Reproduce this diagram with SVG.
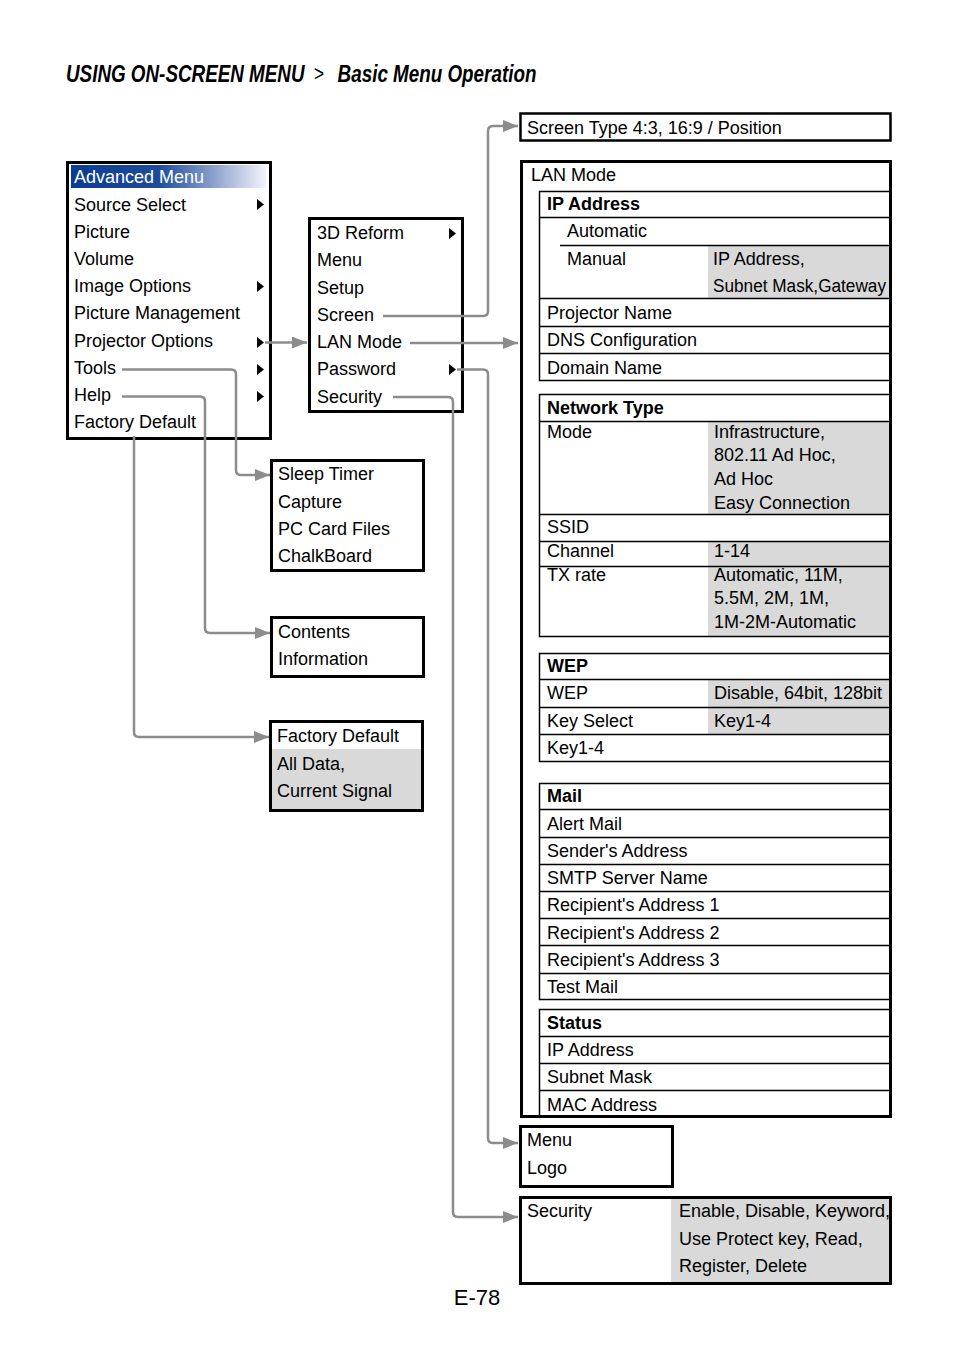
<svg xmlns="http://www.w3.org/2000/svg" width="954" height="1352" viewBox="0 0 954 1352">
<style>
text{font-family:"Liberation Sans",Arial,sans-serif;font-size:18px;fill:#000}
.b{font-weight:bold}
.box{fill:none;stroke:#000;stroke-width:3}
.sec{fill:none;stroke:#000;stroke-width:1.5}
.ln{stroke:#000;stroke-width:1.5}
.gr{fill:#d9d9d9}
.tri{fill:#000}
.con{fill:none;stroke:#8c8c8c;stroke-width:2.5;marker-end:url(#ah)}
.ttl{font-family:"Liberation Sans",Arial,sans-serif;font-size:24px;font-weight:bold;font-style:italic}
</style>
<defs>
<linearGradient id="hdr" x1="0" y1="0" x2="1" y2="0">
<stop offset="0" stop-color="#0a3c94"/>
<stop offset="0.45" stop-color="#1d4b9c"/>
<stop offset="1" stop-color="#f4f4fb"/>
</linearGradient>
<marker id="ah" markerUnits="userSpaceOnUse" markerWidth="15" markerHeight="12" refX="15" refY="6" orient="auto">
<path d="M0,0 L15,6 L0,12 z" fill="#8c8c8c"/>
</marker>
</defs>
<rect width="954" height="1352" fill="#fff"/>

<g id="title">
<text class="ttl" transform="translate(66,82) scale(0.785,1)"><tspan x="0">USING ON-SCREEN MENU</tspan><tspan x="316" y="-1" style="font-weight:normal;font-style:normal;font-size:22px">&gt;</tspan><tspan x="346" y="0">Basic Menu Operation</tspan></text>
</g>

<g id="advanced-menu">
<rect x="71" y="165" width="195" height="23" fill="url(#hdr)"/>
<rect class="box" x="67.5" y="162.5" width="203" height="276"/>
<text x="74" y="183" style="fill:#fff">Advanced Menu</text>
<text x="74" y="211">Source Select</text>
<text x="74" y="238">Picture</text>
<text x="74" y="265">Volume</text>
<text x="74" y="292">Image Options</text>
<text x="74" y="319">Picture Management</text>
<text x="74" y="347">Projector Options</text>
<text x="74" y="374">Tools</text>
<text x="74" y="401">Help</text>
<text x="74" y="428">Factory Default</text>
<polygon class="tri" points="257,199 264,204.5 257,210"/>
<polygon class="tri" points="257,281 264,286.5 257,292"/>
<polygon class="tri" points="257,337 264,342.5 257,348"/>
<polygon class="tri" points="257,364 264,369.5 257,375"/>
<polygon class="tri" points="257,391 264,396.5 257,402"/>
</g>

<g id="projector-options">
<rect class="box" x="309.5" y="218.5" width="153" height="193"/>
<text x="317" y="239">3D Reform</text>
<text x="317" y="266">Menu</text>
<text x="317" y="294">Setup</text>
<text x="317" y="321">Screen</text>
<text x="317" y="348">LAN Mode</text>
<text x="317" y="375">Password</text>
<text x="317" y="403">Security</text>
<polygon class="tri" points="449,228 456,233.5 449,239"/>
<polygon class="tri" points="449,364 456,369.5 449,375"/>
</g>

<g id="tools">
<rect class="box" x="271.5" y="460.5" width="152" height="110"/>
<text x="278" y="480">Sleep Timer</text>
<text x="278" y="508">Capture</text>
<text x="278" y="535">PC Card Files</text>
<text x="278" y="562">ChalkBoard</text>
</g>

<g id="help">
<rect class="box" x="271.5" y="617.5" width="152" height="59"/>
<text x="278" y="638">Contents</text>
<text x="278" y="665">Information</text>
</g>

<g id="factory-default">
<rect class="gr" x="271" y="749" width="151" height="61"/>
<rect class="box" x="270.5" y="721.5" width="152" height="89"/>
<text x="277" y="742">Factory Default</text>
<text x="277" y="770">All Data,</text>
<text x="277" y="797">Current Signal</text>
</g>

<g id="screen">
<rect x="520.5" y="113.5" width="370" height="27" fill="none" stroke="#000" stroke-width="2.5"/>
<text x="527" y="134">Screen Type 4:3, 16:9 / Position</text>
</g>

<g id="lan-mode">
<text x="531" y="181">LAN Mode</text>
<!-- IP Address -->
<rect class="gr" x="708" y="245" width="183" height="53"/>
<rect class="sec" x="539.5" y="191.5" width="351" height="189"/>
<line class="ln" x1="539" y1="217.5" x2="891" y2="217.5"/>
<line class="ln" x1="560" y1="245.5" x2="891" y2="245.5"/>
<line class="ln" x1="539" y1="298.5" x2="891" y2="298.5"/>
<line class="ln" x1="539" y1="326.5" x2="891" y2="326.5"/>
<line class="ln" x1="539" y1="353.5" x2="891" y2="353.5"/>
<text class="b" x="547" y="210">IP Address</text>
<text x="567" y="237">Automatic</text>
<text x="567" y="265">Manual</text>
<text x="713" y="265">IP Address,</text>
<text x="713" y="292" textLength="173" lengthAdjust="spacingAndGlyphs">Subnet Mask,Gateway</text>
<text x="547" y="319">Projector Name</text>
<text x="547" y="346">DNS Configuration</text>
<text x="547" y="374">Domain Name</text>
<!-- Network Type -->
<rect class="gr" x="708" y="421" width="183" height="93"/>
<rect class="gr" x="708" y="541" width="183" height="96"/>
<rect class="sec" x="539.5" y="394.5" width="351" height="242"/>
<line class="ln" x1="539" y1="421.5" x2="891" y2="421.5"/>
<line class="ln" x1="539" y1="514.5" x2="891" y2="514.5"/>
<line class="ln" x1="539" y1="541.5" x2="891" y2="541.5"/>
<line class="ln" x1="539" y1="566.5" x2="891" y2="566.5"/>
<text class="b" x="547" y="414">Network Type</text>
<text x="547" y="438">Mode</text>
<text x="714" y="438">Infrastructure,</text>
<text x="714" y="461">802.11 Ad Hoc,</text>
<text x="714" y="485">Ad Hoc</text>
<text x="714" y="509">Easy Connection</text>
<text x="547" y="533">SSID</text>
<text x="547" y="557">Channel</text>
<text x="714" y="557">1-14</text>
<text x="547" y="581">TX rate</text>
<text x="714" y="581">Automatic, 11M,</text>
<text x="714" y="604">5.5M, 2M, 1M,</text>
<text x="714" y="628">1M-2M-Automatic</text>
<!-- WEP -->
<rect class="gr" x="708" y="679" width="183" height="56"/>
<rect class="sec" x="539.5" y="653.5" width="351" height="108"/>
<line class="ln" x1="539" y1="679.5" x2="891" y2="679.5"/>
<line class="ln" x1="539" y1="707.5" x2="891" y2="707.5"/>
<line class="ln" x1="539" y1="734.5" x2="891" y2="734.5"/>
<text class="b" x="547" y="672">WEP</text>
<text x="547" y="699">WEP</text>
<text x="714" y="699">Disable, 64bit, 128bit</text>
<text x="547" y="727">Key Select</text>
<text x="714" y="727">Key1-4</text>
<text x="547" y="754">Key1-4</text>
<!-- Mail -->
<rect class="sec" x="539.5" y="783.5" width="351" height="216"/>
<line class="ln" x1="539" y1="809.5" x2="891" y2="809.5"/>
<line class="ln" x1="539" y1="837.5" x2="891" y2="837.5"/>
<line class="ln" x1="539" y1="864.5" x2="891" y2="864.5"/>
<line class="ln" x1="539" y1="891.5" x2="891" y2="891.5"/>
<line class="ln" x1="539" y1="918.5" x2="891" y2="918.5"/>
<line class="ln" x1="539" y1="945.5" x2="891" y2="945.5"/>
<line class="ln" x1="539" y1="973.5" x2="891" y2="973.5"/>
<text class="b" x="547" y="802">Mail</text>
<text x="547" y="830">Alert Mail</text>
<text x="547" y="857">Sender's Address</text>
<text x="547" y="884">SMTP Server Name</text>
<text x="547" y="911">Recipient's Address 1</text>
<text x="547" y="939">Recipient's Address 2</text>
<text x="547" y="966">Recipient's Address 3</text>
<text x="547" y="993">Test Mail</text>
<!-- Status -->
<rect class="sec" x="539.5" y="1009.5" width="351" height="107"/>
<line class="ln" x1="539" y1="1036.5" x2="891" y2="1036.5"/>
<line class="ln" x1="539" y1="1063.5" x2="891" y2="1063.5"/>
<line class="ln" x1="539" y1="1090.5" x2="891" y2="1090.5"/>
<text class="b" x="547" y="1029">Status</text>
<text x="547" y="1056">IP Address</text>
<text x="547" y="1083">Subnet Mask</text>
<text x="547" y="1111">MAC Address</text>
<rect class="box" x="521.5" y="161.5" width="369" height="955"/>
</g>

<g id="password">
<rect class="box" x="520.5" y="1126.5" width="152" height="60"/>
<text x="527" y="1146">Menu</text>
<text x="527" y="1174">Logo</text>
</g>

<g id="security">
<rect class="gr" x="671" y="1197" width="220" height="87"/>
<rect class="box" x="520.5" y="1197.5" width="370" height="86"/>
<text x="527" y="1217">Security</text>
<text x="679" y="1217">Enable, Disable, Keyword,</text>
<text x="679" y="1245">Use Protect key, Read,</text>
<text x="679" y="1272">Register, Delete</text>
</g>

<g id="connectors">
<path class="con" d="M265,342.5 H307"/>
<path class="con" d="M383,316 H483 Q488,316 488,311 V131 Q488,126 493,126 H518"/>
<path class="con" d="M410,343 H518"/>
<path class="con" d="M457,369.5 H483 Q488,369.5 488,374.5 V1138 Q488,1143 493,1143 H518"/>
<path class="con" d="M393,397 H448 Q453,397 453,402 V1212 Q453,1217 458,1217 H518"/>
<path class="con" d="M122,369.5 H231 Q236,369.5 236,374.5 V470 Q236,475 241,475 H270"/>
<path class="con" d="M122,396.5 H200 Q205,396.5 205,401.5 V628 Q205,633 210,633 H270"/>
<path class="con" d="M134,436 V732 Q134,737 139,737 H269"/>
</g>

<text x="477" y="1305" style="font-size:22px" text-anchor="middle">E-78</text>
</svg>
